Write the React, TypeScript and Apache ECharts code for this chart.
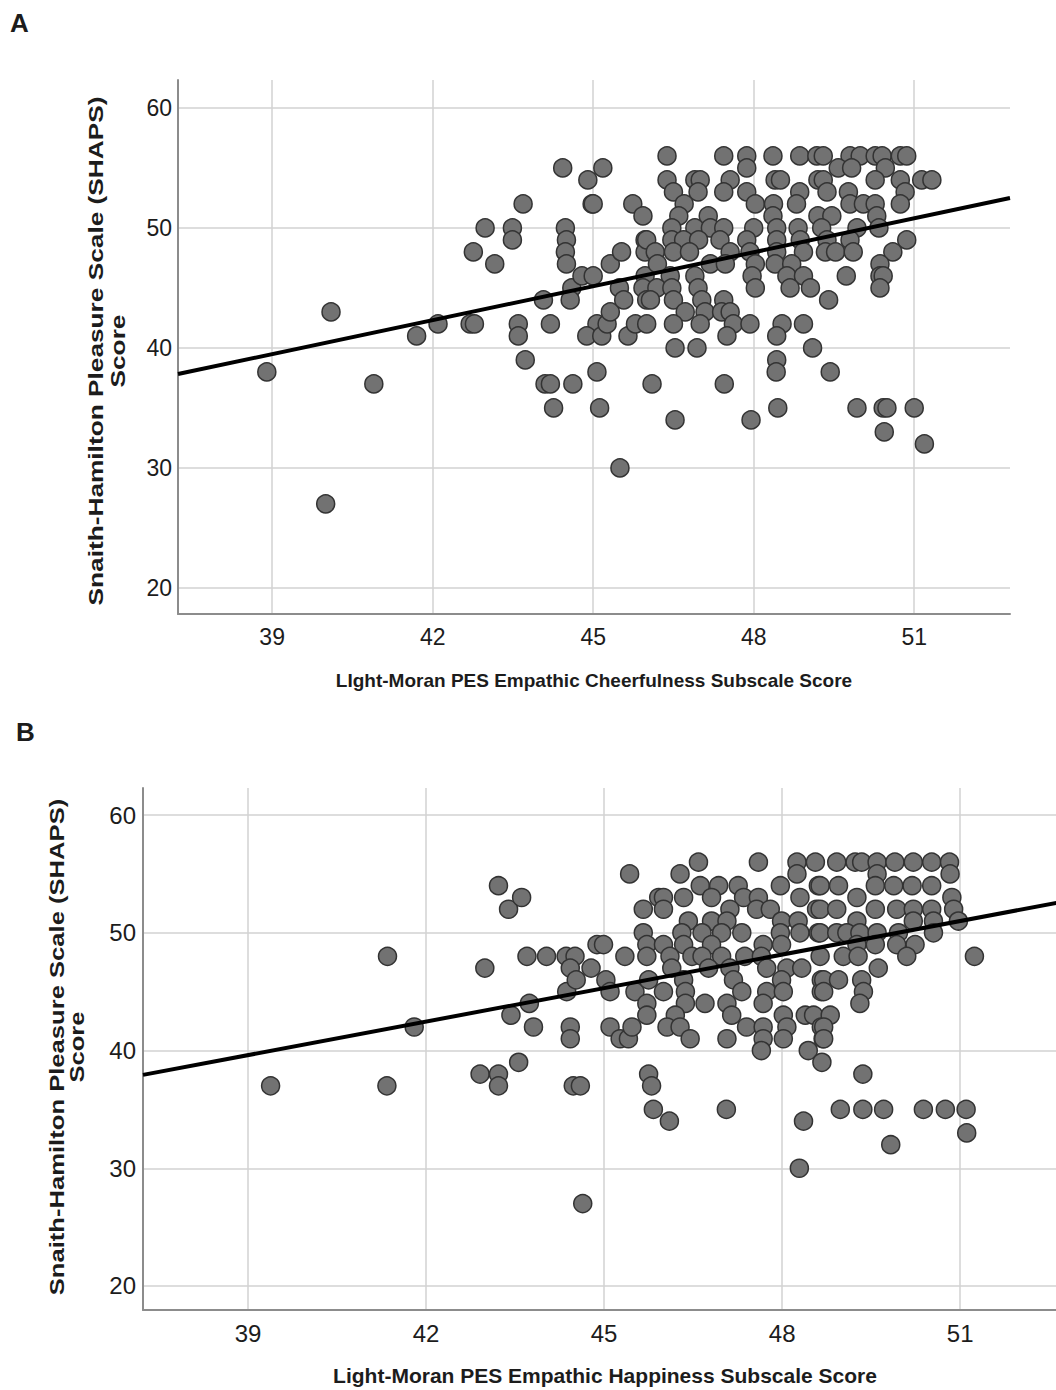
import React, { useEffect, useRef } from "react";
import * as echarts from "echarts";

// ---------- Panel A: Empathic Cheerfulness vs SHAPS ----------
const pointsA: [number, number][] = [
  [38.9, 38], [40.1, 43], [40.0, 27], [40.9, 37], [41.7, 41], [42.1, 42],
  [42.7, 42], [42.78, 42], [42.76, 48], [42.98, 50], [43.16, 47], [43.49, 50], [43.49, 49], [43.69, 52],
  [43.6, 42], [43.6, 41], [43.73, 39], [44.07, 44], [44.1, 37], [44.2, 37], [44.2, 42], [44.26, 35],
  [44.43, 55], [44.48, 50], [44.5, 49], [44.48, 48], [44.5, 47], [44.6, 45], [44.62, 37], [44.57, 44],
  [44.79, 46], [44.9, 54], [44.98, 52], [45.0, 52], [45.0, 46], [45.07, 42], [45.07, 38], [45.12, 35],
  [45.18, 55], [44.88, 41], [45.16, 41], [45.26, 42], [45.32, 43], [45.32, 47], [45.49, 45], [45.5, 30],
  [45.53, 48], [45.57, 44], [45.65, 41], [45.74, 52], [45.93, 51], [45.97, 49], [45.97, 48], [45.97, 46],
  [45.93, 45], [46.0, 44], [45.79, 42], [46.0, 42], [46.1, 37],
  [46.38, 56], [47.44, 56], [47.87, 56], [48.36, 56], [48.86, 56], [49.18, 56],
  [47.87, 55],
  [46.38, 54], [46.9, 54], [47.0, 54], [47.56, 54], [48.4, 54], [48.5, 54], [49.2, 54],
  [46.5, 53], [46.96, 53], [47.44, 53], [47.87, 53], [48.86, 53],
  [46.7, 52], [48.03, 52], [48.37, 52], [48.8, 52],
  [46.6, 51], [47.15, 51], [48.36, 51], [49.2, 51],
  [46.47, 50], [46.9, 50], [47.19, 50], [47.44, 50], [48.0, 50], [48.43, 50], [48.83, 50],
  [46.0, 49], [46.47, 49], [46.69, 49], [46.97, 49], [47.37, 49], [47.87, 49], [48.43, 49], [48.87, 49],
  [46.16, 48], [46.5, 48], [46.8, 48], [47.56, 48], [47.93, 48], [48.43, 48], [48.93, 48],
  [46.2, 47], [47.19, 47], [47.47, 47], [48.03, 47], [48.4, 47], [48.71, 47],
  [46.44, 46], [46.9, 46], [47.97, 46], [48.62, 46], [48.93, 46],
  [46.19, 45], [46.47, 45], [46.96, 45], [48.03, 45], [48.68, 45], [49.06, 45],
  [46.07, 44], [46.5, 44], [47.03, 44], [47.44, 44],
  [46.72, 43], [47.09, 43], [47.4, 43], [47.56, 43],
  [46.5, 42], [47.0, 42], [47.62, 42], [47.93, 42], [48.53, 42], [48.93, 42],
  [47.5, 41], [48.43, 41],
  [46.53, 40], [46.94, 40], [49.1, 40],
  [48.43, 39], [48.42, 38], [47.45, 37], [48.45, 35], [46.53, 34], [47.95, 34],
  [49.3, 56], [49.8, 56], [49.99, 56], [50.27, 56], [50.4, 56], [50.74, 56], [50.86, 56],
  [49.58, 55], [49.83, 55], [50.46, 55],
  [49.3, 54], [50.27, 54], [50.74, 54], [51.14, 54], [51.33, 54],
  [49.37, 53], [49.77, 53], [50.83, 53],
  [49.8, 52], [50.05, 52], [50.27, 52], [50.74, 52],
  [49.46, 51], [50.3, 51],
  [49.27, 50], [49.93, 50], [50.34, 50],
  [49.37, 49], [49.8, 49], [50.86, 49],
  [49.34, 48], [49.53, 48], [49.86, 48], [50.6, 48],
  [50.36, 47],
  [49.73, 46], [50.36, 46], [50.42, 46],
  [50.36, 45], [49.4, 44], [49.43, 38],
  [49.93, 35], [50.42, 35], [50.49, 35], [51.0, 35], [50.44, 33], [51.19, 32],
];

// ---------- Panel B: Empathic Happiness vs SHAPS ----------
const pointsB: [number, number][] = [
  [39.38, 37], [41.34, 37], [41.35, 48], [41.8, 42],
  [42.91, 38], [42.99, 47], [43.22, 54], [43.22, 38], [43.22, 37], [43.39, 52], [43.43, 43], [43.56, 39],
  [43.61, 53], [43.7, 48], [43.74, 44], [43.81, 42], [44.03, 48], [44.36, 48], [44.51, 48], [44.43, 47],
  [44.37, 45], [44.43, 42], [44.43, 41], [44.48, 37], [44.6, 37], [44.53, 46], [44.64, 27], [44.78, 47],
  [44.88, 49], [44.99, 49], [45.03, 46], [45.1, 45], [45.1, 42], [45.27, 41], [45.41, 41], [45.35, 48],
  [45.43, 55], [45.47, 42], [45.52, 45], [45.66, 52], [45.66, 50], [45.72, 49], [45.72, 48], [45.75, 46],
  [45.72, 44], [45.72, 43], [45.75, 38], [45.8, 37], [45.83, 35], [45.92, 53],
  [46.59, 56], [47.6, 56], [48.25, 56], [48.56, 56],
  [46.28, 55], [48.25, 55],
  [46.62, 54], [46.93, 54], [47.26, 54], [47.97, 54], [48.61, 54],
  [46.0, 53], [46.34, 53], [46.81, 53], [47.35, 53], [47.6, 53], [48.3, 53],
  [46.0, 52], [47.12, 52], [47.57, 52], [47.8, 52], [48.58, 52],
  [46.42, 51], [46.81, 51], [47.07, 51], [47.99, 51], [48.27, 51],
  [46.31, 50], [46.65, 50], [46.98, 50], [47.32, 50], [47.97, 50], [48.3, 50], [48.61, 50],
  [46.0, 49], [46.34, 49], [46.81, 49], [47.68, 49], [47.99, 49],
  [46.11, 48], [46.48, 48], [46.65, 48], [46.98, 48], [47.37, 48], [47.65, 48], [48.64, 48],
  [46.14, 47], [46.76, 47], [47.12, 47], [47.74, 47], [48.08, 47], [48.33, 47],
  [46.34, 46], [47.18, 46], [47.99, 46], [48.66, 46],
  [46.0, 45], [46.37, 45], [47.32, 45], [47.74, 45], [48.02, 45], [48.66, 45],
  [46.37, 44], [46.7, 44], [47.07, 44], [47.68, 44],
  [46.2, 43], [47.15, 43], [48.02, 43], [48.39, 43], [48.53, 43],
  [46.06, 42], [46.28, 42], [47.4, 42], [47.68, 42], [48.08, 42], [48.66, 42],
  [46.45, 41], [47.07, 41], [47.68, 41], [48.02, 41], [48.69, 41],
  [47.65, 40], [48.44, 40], [48.67, 39],
  [47.06, 35], [46.1, 34], [48.36, 34], [48.29, 30],
  [48.92, 56], [49.23, 56], [49.34, 56], [49.6, 56], [49.9, 56], [50.21, 56], [50.52, 56], [50.82, 56],
  [49.6, 55], [50.83, 55],
  [48.64, 54], [48.95, 54], [49.57, 54], [49.88, 54], [50.19, 54], [50.52, 54],
  [49.26, 53], [50.86, 53],
  [48.64, 52], [48.92, 52], [49.57, 52], [49.93, 52], [50.21, 52], [50.52, 52], [50.89, 52],
  [49.26, 51], [50.21, 51], [50.55, 51], [50.97, 51],
  [48.64, 50], [48.92, 50], [49.09, 50], [49.31, 50], [49.6, 50], [49.96, 50], [50.55, 50],
  [49.26, 49], [49.57, 49], [49.93, 49], [50.24, 49],
  [49.03, 48], [49.28, 48], [50.1, 48], [51.24, 48],
  [49.62, 47],
  [48.7, 46], [48.95, 46], [49.34, 46],
  [48.7, 45], [49.37, 45], [49.31, 44], [48.81, 43], [48.7, 42], [48.7, 41],
  [49.36, 38],
  [48.98, 35], [49.36, 35], [49.71, 35], [50.38, 35], [50.75, 35], [51.1, 35],
  [51.11, 33], [49.83, 32],
];

// Fitted linear regression lines (slope, intercept)
const fitA = { slope: 0.943, intercept: 2.71 };
const fitB = { slope: 0.949, intercept: 2.6 };

// Axis ranges & ticks
const xRangeA: [number, number] = [37.24, 52.79];
const yRangeA: [number, number] = [17.83, 62.33];
const xRangeB: [number, number] = [37.23, 52.8];
const yRangeB: [number, number] = [17.96, 62.3];
const xTicks = [39, 42, 45, 48, 51];
const yTicks = [20, 30, 40, 50, 60];

const titleY1 = "Snaith-Hamilton Pleasure Scale (SHAPS)";
const titleY2 = "Score";
const titleXA = "LIght-Moran PES Empathic Cheerfulness Subscale Score";
const titleXB = "Light-Moran PES Empathic Happiness Subscale Score";

const FONT = "'Liberation Sans', Arial, Helvetica, sans-serif";
const TEXT = "#1c1c1c";

function fitLine(fit: { slope: number; intercept: number }, range: [number, number]) {
  return range.map((x) => [x, fit.intercept + fit.slope * x]);
}

function xAxisCfg(range: [number, number], gridIndex: number, name: string, nameSize: number, nameGap: number, labelSize: number, labelMargin: number) {
  return {
    type: "value",
    gridIndex,
    min: range[0],
    max: range[1],
    name,
    nameLocation: "middle",
    nameGap,
    nameTextStyle: { fontFamily: FONT, fontWeight: "bold", fontSize: nameSize, color: TEXT },
    axisLine: { show: true, onZero: false, lineStyle: { color: "#8c8c8c", width: 2 } },
    axisTick: { show: false, customValues: xTicks },
    axisLabel: { customValues: xTicks, fontFamily: FONT, fontSize: labelSize, color: TEXT, margin: labelMargin },
    splitLine: { show: true, lineStyle: { color: "#d2d2d2", width: 1.5 } },
  };
}

function yAxisCfg(range: [number, number], gridIndex: number, labelSize: number, labelMargin: number) {
  return {
    type: "value",
    gridIndex,
    min: range[0],
    max: range[1],
    axisLine: { show: true, onZero: false, lineStyle: { color: "#8c8c8c", width: 2 } },
    axisTick: { show: false, customValues: yTicks },
    axisLabel: { customValues: yTicks, fontFamily: FONT, fontSize: labelSize, color: TEXT, margin: labelMargin },
    splitLine: { show: true, lineStyle: { color: "#d2d2d2", width: 1.5 } },
  };
}

function yTitle(x: number, y: number, text: string, stretch: number) {
  return {
    type: "text",
    x,
    y,
    rotation: Math.PI / 2,
    scaleX: stretch,
    scaleY: 1,
    style: {
      text,
      fontFamily: FONT,
      fontWeight: "bold",
      fontSize: 21,
      fill: TEXT,
      align: "center",
      verticalAlign: "middle",
    },
  };
}

const scatterStyle = {
  color: "#727272",
  borderColor: "#333333",
  borderWidth: 1.5,
  opacity: 1,
};

export default function App() {
  const ref = useRef<HTMLDivElement>(null);
  useEffect(() => {
    if (!ref.current) return;
    const chart = echarts.init(ref.current, undefined, { renderer: "svg" });
    chart.setOption({
      animation: false,
      backgroundColor: "#ffffff",
      graphic: [
        { type: "text", left: 10, top: 10, style: { text: "A", fontFamily: FONT, fontWeight: "bold", fontSize: 26, fill: TEXT } },
        { type: "text", left: 16, top: 719, style: { text: "B", fontFamily: FONT, fontWeight: "bold", fontSize: 26, fill: TEXT } },
        yTitle(95, 351, titleY1, 1.25),
        yTitle(117, 351, titleY2, 1.25),
        yTitle(57, 1047, titleY1, 1.22),
        yTitle(77, 1047, titleY2, 1.22),
      ],
      grid: [
        { left: 178, top: 80, width: 832, height: 534, containLabel: false, outerBoundsMode: "none" },
        { left: 143, top: 788, width: 924, height: 522, containLabel: false, outerBoundsMode: "none" },
      ],
      xAxis: [
        xAxisCfg(xRangeA, 0, titleXA, 19, 57, 23, 11),
        xAxisCfg(xRangeB, 1, titleXB, 21, 55, 24, 11),
      ],
      yAxis: [yAxisCfg(yRangeA, 0, 23, 6), yAxisCfg(yRangeB, 1, 24, 7)],
      series: [
        { type: "scatter", xAxisIndex: 0, yAxisIndex: 0, symbolSize: 18, data: pointsA, itemStyle: scatterStyle, z: 2 },
        { type: "line", xAxisIndex: 0, yAxisIndex: 0, data: fitLine(fitA, xRangeA), symbol: "none", lineStyle: { color: "#000", width: 4 }, z: 3 },
        { type: "scatter", xAxisIndex: 1, yAxisIndex: 1, symbolSize: 18, data: pointsB, itemStyle: scatterStyle, z: 2 },
        { type: "line", xAxisIndex: 1, yAxisIndex: 1, data: fitLine(fitB, xRangeB), symbol: "none", lineStyle: { color: "#000", width: 4 }, z: 3 },
      ],
    });
    return () => chart.dispose();
  }, []);
  return (
    <div style={{ position: "absolute", left: 0, top: 0, width: 1056, height: 1390, overflow: "hidden", background: "#fff" }}>
      <div ref={ref} style={{ width: 1056, height: 1390 }} />
    </div>
  );
}
